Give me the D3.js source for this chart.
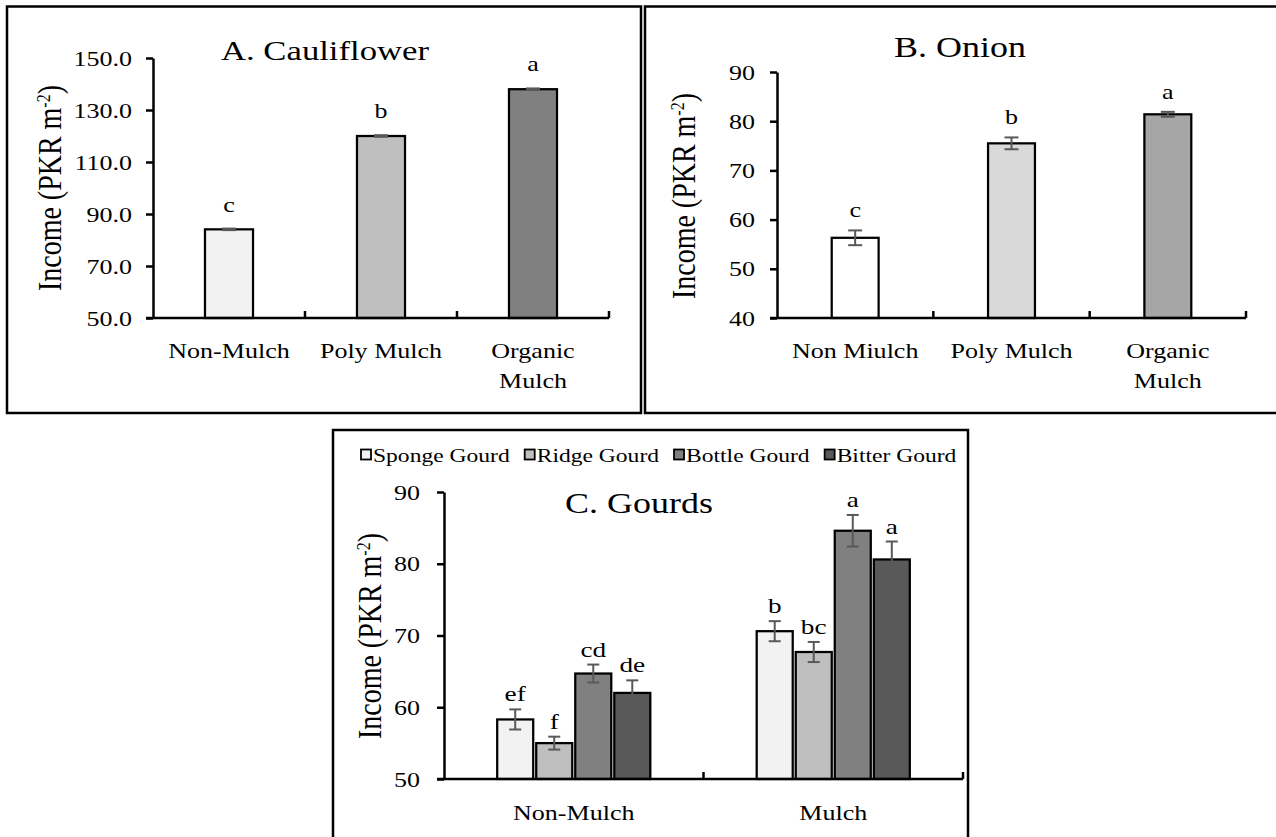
<!DOCTYPE html>
<html>
<head>
<meta charset="utf-8">
<script src="https://cdn.jsdelivr.net/npm/d3@7"></script>
<style>
  body { margin: 0; background: #fff; }
  svg { display: block; }
</style>
</head>
<body>
<svg id="chart" width="1276" height="837"></svg>
<script>
// ---- data ----
const cauliCats = ["Non-Mulch", "Poly Mulch", "Organic Mulch"];
const cauliIncome = [84.1, 120.0, 138.0];
const cauliErr = [0.3, 0.3, 0.3];
const cauliLetters = ["c", "b", "a"];
const cauliTicks = [50, 70, 90, 110, 130, 150];

const onionCats = ["Non Miulch", "Poly Mulch", "Organic Mulch"];
const onionIncome = [56.3, 75.5, 81.4];
const onionErr = [1.5, 1.2, 0.5];
const onionLetters = ["c", "b", "a"];
const onionTicks = [40, 50, 60, 70, 80, 90];

const gourdGroups = ["Non-Mulch", "Mulch"];
const gourdSeries = ["Sponge Gourd", "Ridge Gourd", "Bottle Gourd", "Bitter Gourd"];
const gourdNonMulch = [58.3, 55.0, 64.7, 62.0];
const gourdMulch = [70.6, 67.7, 84.6, 80.6];
const gourdNonMulchErr = [1.4, 0.9, 1.25, 1.75];
const gourdMulchErr = [1.4, 1.4, 2.2, 2.5];
const gourdNonMulchLetters = ["ef", "f", "cd", "de"];
const gourdMulchLetters = ["b", "bc", "a", "a"];
const gourdTicks = [50, 60, 70, 80, 90];

const cauliColors = ["#f2f2f2", "#bfbfbf", "#808080"];
const onionColors = ["#ffffff", "#d9d9d9", "#a6a6a6"];
const gourdColors = ["#f2f2f2", "#bfbfbf", "#808080", "#595959"];

const svg = d3.select("#chart");
const FONT = '"Liberation Serif","Times New Roman",serif';
const SX = 1.24;   // the figure's text is stretched sideways
const ERR_COLOR = "#595959";

function stretchText(parent, x, y, str, size, anchor) {
    return parent.append("text")
        .attr("transform", `translate(${x},${y}) scale(${SX},1)`)
        .attr("text-anchor", anchor || "middle")
        .attr("font-family", FONT)
        .attr("font-size", size)
        .attr("fill", "#000")
        .text(str);
}

function drawPanel(p) {
    const g = svg.append("g");

    // frame
    g.append("rect")
        .attr("x", p.box[0]).attr("y", p.box[1])
        .attr("width", p.box[2] - p.box[0])
        .attr("height", p.box[3] - p.box[1])
        .attr("fill", "none")
        .attr("stroke", "#000")
        .attr("stroke-width", 2.5);

    const x = d3.scaleBand().domain(p.cats).range(p.xRange);
    const y = d3.scaleLinear().domain(p.domain).range(p.yRange);
    const gw = x.bandwidth() * p.frac;
    const x1 = d3.scaleBand().domain(p.keys).range([-gw / 2, gw / 2]).paddingInner(p.inner || 0);
    const cx = d => x(d.cat) + x.bandwidth() / 2 + x1(d.key) + x1.bandwidth() / 2;
    const base = y(p.domain[0]);

    // bars
    g.selectAll(".bar")
        .data(p.rows)
        .join("rect")
        .attr("class", "bar")
        .attr("x", d => cx(d) - x1.bandwidth() / 2)
        .attr("y", d => y(d.value))
        .attr("width", x1.bandwidth())
        .attr("height", d => base - y(d.value))
        .attr("fill", d => d.color)
        .attr("stroke", "#000")
        .attr("stroke-width", 2.25);

    // error bars
    const eb = g.selectAll(".err")
        .data(p.rows)
        .join("g")
        .attr("class", "err")
        .attr("stroke", ERR_COLOR)
        .attr("stroke-width", 2);
    eb.append("line")
        .attr("x1", cx).attr("x2", cx)
        .attr("y1", d => y(d.value - d.err))
        .attr("y2", d => y(d.value + d.err));
    eb.append("line")
        .attr("x1", d => cx(d) - p.cap / 2).attr("x2", d => cx(d) + p.cap / 2)
        .attr("y1", d => y(d.value + d.err)).attr("y2", d => y(d.value + d.err));
    eb.append("line")
        .attr("x1", d => cx(d) - p.cap / 2).attr("x2", d => cx(d) + p.cap / 2)
        .attr("y1", d => y(d.value - d.err)).attr("y2", d => y(d.value - d.err));

    // significance letters
    p.rows.forEach(d => {
        stretchText(g, cx(d), y(d.value + d.err) - p.letterGap, d.letter, p.letterSize);
    });

    // y axis
    const yAxis = g.append("g")
        .attr("transform", `translate(${p.xRange[0]},0)`)
        .call(d3.axisLeft(y).tickValues(p.ticks).tickSize(7).tickSizeOuter(0).tickFormat(p.fmt));
    yAxis.select(".domain").attr("stroke", "#000").attr("stroke-width", 2.5);
    yAxis.selectAll(".tick line").attr("stroke", "#000").attr("stroke-width", 2.5);
    yAxis.selectAll(".tick text")
        .attr("x", null).attr("dy", null)
        .attr("transform", `translate(${-p.tickGap},7) scale(${SX},1)`)
        .attr("font-family", FONT)
        .attr("font-size", 21)
        .attr("fill", "#000");

    // x axis: baseline with small upward ticks at the category borders
    g.append("line")
        .attr("x1", p.xRange[0] - 7).attr("x2", p.xRange[1])
        .attr("y1", base).attr("y2", base)
        .attr("stroke", "#000").attr("stroke-width", 2.5);
    const borders = p.cats.slice(1).map(c => x(c)).concat([p.xRange[1]]);
    g.selectAll(".xtick")
        .data(borders)
        .join("line")
        .attr("x1", d => d).attr("x2", d => d)
        .attr("y1", base).attr("y2", base - 7)
        .attr("stroke", "#000").attr("stroke-width", 2.5);

    // category labels, wrapped when wider than the band
    p.cats.forEach(c => {
        const t = stretchText(g, x(c) + x.bandwidth() / 2, p.catY, c, 21);
        if (t.node().getComputedTextLength() * SX > x.bandwidth() * 0.95) {
            const words = c.split(" ");
            const last = words.pop();
            t.text(words.join(" "));
            stretchText(g, x(c) + x.bandwidth() / 2, p.catY + 30, last, 21);
        }
    });

    // title
    stretchText(g, p.titleX, p.titleY, p.title, p.titleSize);

    // y label with superscript
    const yl = g.append("text")
        .attr("transform", `translate(${p.ylab[0]},${p.ylab[1]}) scale(${SX},1) rotate(-90)`)
        .attr("text-anchor", "middle")
        .attr("font-family", FONT)
        .attr("font-size", 28)
        .attr("fill", "#000");
    yl.append("tspan").text("Income (PKR m");
    yl.append("tspan").attr("baseline-shift", "super").attr("font-size", 16).text("-2");
    yl.append("tspan").text(")");

    return g;
}

// A. Cauliflower
drawPanel({
    box: [7, 6.5, 641, 413],
    xRange: [153, 609], yRange: [318, 58], domain: [50, 150],
    ticks: cauliTicks, fmt: d3.format(".1f"), tickGap: 21,
    cats: cauliCats, keys: ["_"], frac: 0.316, cap: 14,
    rows: cauliCats.map((c, i) => ({
        cat: c, key: "_", value: cauliIncome[i], err: cauliErr[i],
        letter: cauliLetters[i], color: cauliColors[i]
    })),
    letterGap: 17, letterSize: 21, catY: 358,
    title: "A. Cauliflower", titleSize: 28, titleX: 325, titleY: 60,
    ylab: [61, 188]
});

// B. Onion
drawPanel({
    box: [645, 6.5, 1290, 413],
    xRange: [777, 1246], yRange: [318, 72], domain: [40, 90],
    ticks: onionTicks, fmt: d3.format("d"), tickGap: 22,
    cats: onionCats, keys: ["_"], frac: 0.30, cap: 14,
    rows: onionCats.map((c, i) => ({
        cat: c, key: "_", value: onionIncome[i], err: onionErr[i],
        letter: onionLetters[i], color: onionColors[i]
    })),
    letterGap: 13, letterSize: 21, catY: 358,
    title: "B. Onion", titleSize: 29, titleX: 960, titleY: 57,
    ylab: [695, 196]
});

// C. Gourds
const gourdRows = [];
gourdSeries.forEach((s, i) => {
    gourdRows.push({ cat: gourdGroups[0], key: s, value: gourdNonMulch[i], err: gourdNonMulchErr[i],
        letter: gourdNonMulchLetters[i], color: gourdColors[i] });
    gourdRows.push({ cat: gourdGroups[1], key: s, value: gourdMulch[i], err: gourdMulchErr[i],
        letter: gourdMulchLetters[i], color: gourdColors[i] });
});
const gC = drawPanel({
    box: [333, 430, 968, 860],
    xRange: [444, 963], yRange: [779, 492], domain: [50, 90],
    ticks: gourdTicks, fmt: d3.format("d"), tickGap: 24,
    cats: gourdGroups, keys: gourdSeries, frac: 0.59, inner: 0.077, cap: 12,
    rows: gourdRows,
    letterGap: 8, letterSize: 22, catY: 820,
    title: "C. Gourds", titleSize: 29, titleX: 639, titleY: 513,
    ylab: [381, 636]
});

// legend
let lx = 361;
gourdSeries.forEach((s, i) => {
    gC.append("rect")
        .attr("x", lx).attr("y", 449.5)
        .attr("width", 10).attr("height", 10)
        .attr("fill", gourdColors[i])
        .attr("stroke", "#000").attr("stroke-width", 1.8);
    const t = stretchText(gC, lx + 12, 461.5, s, 19, "start");
    lx += 12 + t.node().getComputedTextLength() * SX + 15;
});
</script>
</body>
</html>
